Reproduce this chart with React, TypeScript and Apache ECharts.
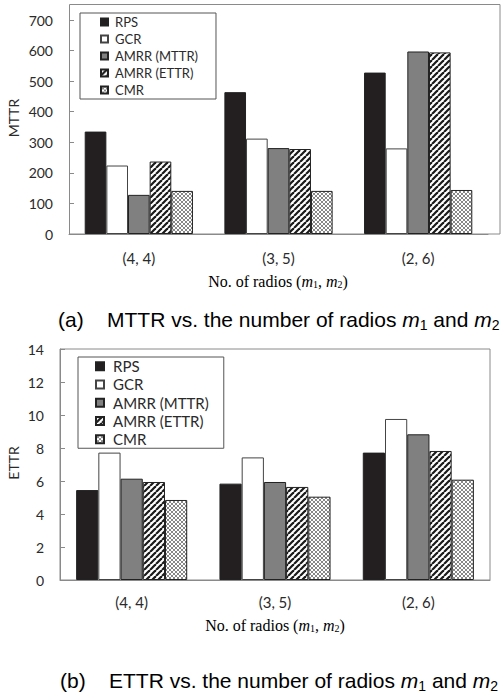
import React, { useEffect, useRef } from "react";
import * as echarts from "echarts";

const categories = ["(4, 4)", "(3, 5)", "(2, 6)"];
const seriesNames = ["RPS", "GCR", "AMRR (MTTR)", "AMRR (ETTR)", "CMR"];

// (a) MTTR
const mttrRPS = [335, 464, 528];
const mttrGCR = [224, 312, 280];
const mttrAmrrMttr = [128, 281, 597];
const mttrAmrrEttr = [237, 278, 594];
const mttrCMR = [141, 141, 144];

// (b) ETTR
const ettrRPS = [5.45, 5.84, 7.72];
const ettrGCR = [7.72, 7.43, 9.76];
const ettrAmrrMttr = [6.14, 5.94, 8.83];
const ettrAmrrEttr = [5.94, 5.64, 7.82];
const ettrCMR = [4.85, 5.05, 6.08];

const mttrTicks = { min: 0, max: 700, interval: 100 };
const ettrTicks = { min: 0, max: 14, interval: 2 };

function makeStripe(): string {
  const c = document.createElement("canvas");
  c.width = 6;
  c.height = 6;
  const g = c.getContext("2d")!;
  g.fillStyle = "#ffffff";
  g.fillRect(0, 0, 6, 6);
  g.strokeStyle = "#1a1a1a";
  g.lineWidth = 2.2;
  for (const o of [-6, 0, 6]) {
    g.beginPath();
    g.moveTo(o, 6);
    g.lineTo(o + 6, 0);
    g.stroke();
  }
  return c.toDataURL();
}

function makeCross(): string {
  const c = document.createElement("canvas");
  c.width = 4;
  c.height = 4;
  const g = c.getContext("2d")!;
  g.fillStyle = "#ffffff";
  g.fillRect(0, 0, 4, 4);
  g.strokeStyle = "#6a6a6a";
  g.lineWidth = 0.8;
  g.beginPath();
  g.moveTo(0, 0);
  g.lineTo(4, 4);
  g.moveTo(0, 4);
  g.lineTo(4, 0);
  g.stroke();
  return c.toDataURL();
}

export default function App() {
  const ref = useRef<HTMLDivElement>(null);
  useEffect(() => {
    if (!ref.current) return;
    const chart = echarts.init(ref.current, undefined, { renderer: "svg" });
    const stripe = makeStripe();
    const cross = makeCross();
    const fills: any[] = [
      "#231f20",
      "#ffffff",
      "#808080",
      { image: stripe, repeat: "repeat" },
      { image: cross, repeat: "repeat" },
    ];
    const topData = [mttrRPS, mttrGCR, mttrAmrrMttr, mttrAmrrEttr, mttrCMR];
    const botData = [ettrRPS, ettrGCR, ettrAmrrMttr, ettrAmrrEttr, ettrCMR];
    const axisGray = "#8a8a8a";
    const labelFont = "Lato, 'Open Sans', sans-serif";

    const mkSeries = (data: number[][], idx: number) =>
      data.map((d, i) => ({
        name: seriesNames[i],
        type: "bar",
        xAxisIndex: idx,
        yAxisIndex: idx,
        data: d,
        barGap: "0%",
        barCategoryGap: "22.5%",
        itemStyle: {
          color: fills[i],
          borderColor: i === 1 ? "#444" : "#222",
          borderWidth: 1,
        },
      }));

    const mkX = (gridIndex: number) => ({
      type: "category",
      gridIndex,
      data: categories,
      axisLine: { lineStyle: { color: axisGray, width: 1 } },
      axisTick: { show: false },
      axisLabel: {
        color: "#2a2a2a",
        fontFamily: labelFont,
        fontSize: 15,
        margin: gridIndex === 0 ? 16 : 14,
      },
    });
    const mkY = (gridIndex: number, t: any) => ({
      type: "value",
      gridIndex,
      min: t.min,
      max: t.max,
      interval: t.interval,
      splitLine: { show: false },
      axisLine: { show: true, lineStyle: { color: axisGray, width: 1 } },
      axisTick: { show: true, inside: true, length: 5, lineStyle: { color: axisGray } },
      axisLabel: { color: "#2a2a2a", fontFamily: labelFont, fontSize: 14, margin: 16 },
    });

    const legendBase = {
      orient: "vertical",
      icon: "rect",
      borderColor: "#555",
      borderWidth: 1,
      borderRadius: 0,
      itemGap: 0,
      selectedMode: false,
      data: seriesNames,
    };

    const serifFont = "'Liberation Serif', 'Times New Roman', serif";
    const xNameRich = {
      a: { fontFamily: serifFont, fontSize: 16, color: "#333" },
      i: { fontFamily: serifFont, fontSize: 16, fontStyle: "italic", color: "#333" },
      s: { fontFamily: serifFont, fontSize: 10, color: "#333", verticalAlign: "bottom" },
    };
    const capFont = "'Liberation Sans', Arial, sans-serif";
    const capRich = {
      a: { fontFamily: capFont, fontSize: 21, color: "#111", lineHeight: 26 },
      i: { fontFamily: capFont, fontSize: 21, fontStyle: "italic", color: "#111", lineHeight: 26 },
      s: { fontFamily: capFont, fontSize: 14, color: "#111", verticalAlign: "bottom", lineHeight: 22 },
    };

    chart.setOption({
      animation: false,
      backgroundColor: "#ffffff",
      grid: [
        { left: 69, right: 13, top: 20, height: 214 },
        {
          left: 60,
          right: 11,
          top: 349,
          height: 231,
          show: true,
          borderColor: axisGray,
          borderWidth: 1,
        },
      ],
      xAxis: [mkX(0), mkX(1)],
      yAxis: [mkY(0, mttrTicks), mkY(1, ettrTicks)],
      legend: [
        {
          ...legendBase,
          left: 80,
          top: 13,
          itemWidth: 7,
          itemHeight: 7,
          padding: [0.5, 18, 0.5, 20],
          textStyle: { fontFamily: labelFont, fontSize: 13, color: "#2a2a2a", lineHeight: 17, padding: [0, 0, 0, 2] },
        },
        {
          ...legendBase,
          left: 78,
          top: 357,
          itemWidth: 8,
          itemHeight: 8,
          padding: [0, 15, 0, 17],
          textStyle: { fontFamily: labelFont, fontSize: 15, color: "#2a2a2a", lineHeight: 18.25, padding: [0, 0, 0, 4] },
        },
      ],
      series: [...mkSeries(topData, 0), ...mkSeries(botData, 1)],
      graphic: [
        {
          type: "rect",
          silent: true,
          z: 0,
          shape: { x: 69.5, y: 4.5, width: 430.5, height: 229.5 },
          style: { fill: "none", stroke: axisGray, lineWidth: 1 },
        },
        {
          type: "text",
          x: 13,
          y: 118,
          rotation: Math.PI / 2,
          style: {
            text: "MTTR",
            fontFamily: labelFont,
            fontSize: 14,
            fill: "#2a2a2a",
            align: "center",
            verticalAlign: "middle",
          },
        },
        {
          type: "text",
          x: 13,
          y: 463,
          rotation: Math.PI / 2,
          style: {
            text: "ETTR",
            fontFamily: labelFont,
            fontSize: 14,
            fill: "#2a2a2a",
            align: "center",
            verticalAlign: "middle",
          },
        },
        {
          type: "text",
          x: 278,
          y: 281,
          style: {
            text: "{a|No. of radios (}{i|m}{s|1}{a|, }{i|m}{s|2}{a|)}",
            rich: xNameRich,
            align: "center",
            verticalAlign: "middle",
          },
        },
        {
          type: "text",
          x: 275,
          y: 625,
          style: {
            text: "{a|No. of radios (}{i|m}{s|1}{a|, }{i|m}{s|2}{a|)}",
            rich: xNameRich,
            align: "center",
            verticalAlign: "middle",
          },
        },
        {
          type: "text",
          x: 58,
          y: 319,
          style: {
            text: "{a|(a)    MTTR vs. the number of radios }{i|m}{s|1}{a| and }{i|m}{s|2}",
            rich: capRich,
            align: "left",
            verticalAlign: "middle",
          },
        },
        {
          type: "text",
          x: 60,
          y: 680,
          style: {
            text: "{a|(b)    ETTR vs. the number of radios }{i|m}{s|1}{a| and }{i|m}{s|2}",
            rich: capRich,
            align: "left",
            verticalAlign: "middle",
          },
        },
      ],
    });
    return () => chart.dispose();
  }, []);
  return (
    <div
      ref={ref}
      style={{ position: "absolute", left: 0, top: 0, width: 501, height: 695, background: "#fff" }}
    />
  );
}
